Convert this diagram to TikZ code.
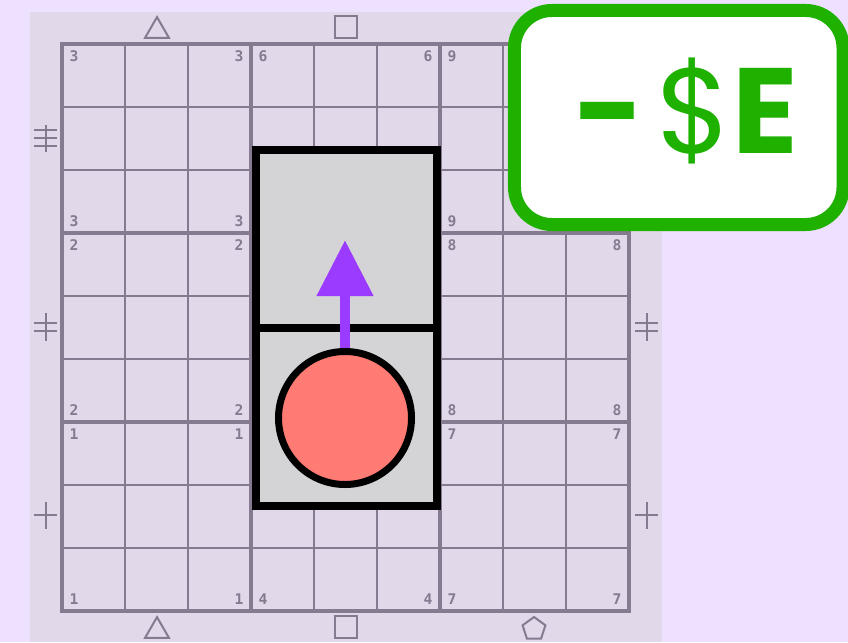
\documentclass[tikz,border=0pt]{standalone}
\usepackage{fontspec}
\usepackage{tikz}
\usetikzlibrary{arrows.meta,shapes.geometric}
\newfontfamily\costfont{Poppins}
\newfontfamily\digitfont{DejaVu Sans Mono}
\definecolor{pzbg}{HTML}{EEE0FF}
\definecolor{pzpanel}{HTML}{E1D9EA}
\definecolor{pzline}{HTML}{857A90}
\definecolor{pzbox}{HTML}{D4D3D6}
\definecolor{pzred}{HTML}{FF7B73}
\definecolor{pzpurple}{HTML}{9B3BFF}
\definecolor{pzgreen}{HTML}{1EB100}

\begin{document}
\begin{tikzpicture}[x=0.75pt,y=-0.75pt,
  thinline/.style={pzline,line width=1pt},
  blockline/.style={pzline,line width=3pt},
  symline/.style={pzline,line width=1.5pt},
  digit/.style={text=pzline,font=\digitfont\bfseries\fontsize{11}{11}\selectfont,inner sep=0pt},
  marker/.style={draw=pzline,line width=1.5pt,inner sep=0pt},
  cellbox/.style={draw=black,fill=pzbox,line width=6pt,minimum width=135.75pt,minimum height=133.5pt},
  token/.style={circle,draw=black,fill=pzred,line width=5.25pt,minimum size=99.75pt,inner sep=0pt},
  move/.style={pzpurple,line width=8pt,-{Triangle[width=40.5pt,length=42pt]}},
  costbox/.style={draw=pzgreen,fill=white,line width=9.75pt,rounded corners=28pt,minimum width=246.4pt,minimum height=160.5pt}]
  \useasboundingbox (0,0) rectangle (848,642);
  \fill[pzbg] (0,0) rectangle (848,642);
  \fill[pzpanel] (30,12) rectangle (662,642);
  % grid
  \foreach \k in {1,2,4,5,7,8} {
    \draw[thinline] (62+63*\k,44) -- (62+63*\k,611);
    \draw[thinline] (62,44+63*\k) -- (629,44+63*\k);
  }
  \foreach \k in {3,6} {
    \draw[blockline] (62+63*\k,44) -- (62+63*\k,611);
    \draw[blockline] (62,44+63*\k) -- (629,44+63*\k);
  }
  \draw[blockline] (62,44) rectangle (629,611);
  % block numbers
  \foreach \x/\y/\d in {74/56/3, 239/56/3, 74/221/3, 239/221/3,
      263/56/6, 428/56/6, 452/56/9, 452/221/9,
      74/245/2, 239/245/2, 74/410/2, 239/410/2,
      452/245/8, 617/245/8, 452/410/8, 617/410/8,
      74/434/1, 239/434/1, 74/599/1, 239/599/1,
      263/599/4, 428/599/4,
      452/434/7, 617/434/7, 452/599/7, 617/599/7}
    \node[digit] (n\x-\y) at (\x,\y) {\d};
  % edge markers
  \node[marker,regular polygon,regular polygon sides=3,minimum size=20.8pt] (triN) at (157,31) {};
  \node[marker,minimum size=16.5pt] (sqN) at (346,27) {};
  \node[marker,regular polygon,regular polygon sides=3,minimum size=20.8pt] (triS) at (157,631) {};
  \node[marker,minimum size=16.5pt] (sqS) at (346,627) {};
  \node[marker,regular polygon,regular polygon sides=5,minimum size=18pt] (pentS) at (534,629) {};
  \draw[symline] (46,125) -- (46,152) (34,130) -- (57,130) (34,146) -- (57,146);
  \draw[pzline,line width=2pt] (34,138) -- (57,138);
  \draw[symline] (46,313) -- (46,341) (34,323) -- (57,323) (34,331) -- (57,331);
  \draw[symline] (46,502) -- (46,529) (34,515) -- (57,515);
  \draw[symline] (647,313) -- (647,341) (635,323) -- (658,323) (635,331) -- (658,331);
  \draw[symline] (647,502) -- (647,529) (635,515) -- (658,515);
  % piece and move
  \node[cellbox] (upper) at (346.5,239) {};
  \node[cellbox] (lower) at (346.5,417) {};
  \node[token] (piece) at (345,418) {};
  \coordinate (goal) at (345,240);
  \draw[move] (piece.north) -- (goal);
  % cost
  \node[costbox] (cost) at (678.75,117.5) {};
  \node[text=pzgreen,font=\costfont\fontsize{91}{91}\selectfont,anchor=base,inner sep=0pt] (costtext) at (686,153)
    {\textbf{-}\hspace{0.1em}\$\textbf{E}};
\end{tikzpicture}
\end{document}
